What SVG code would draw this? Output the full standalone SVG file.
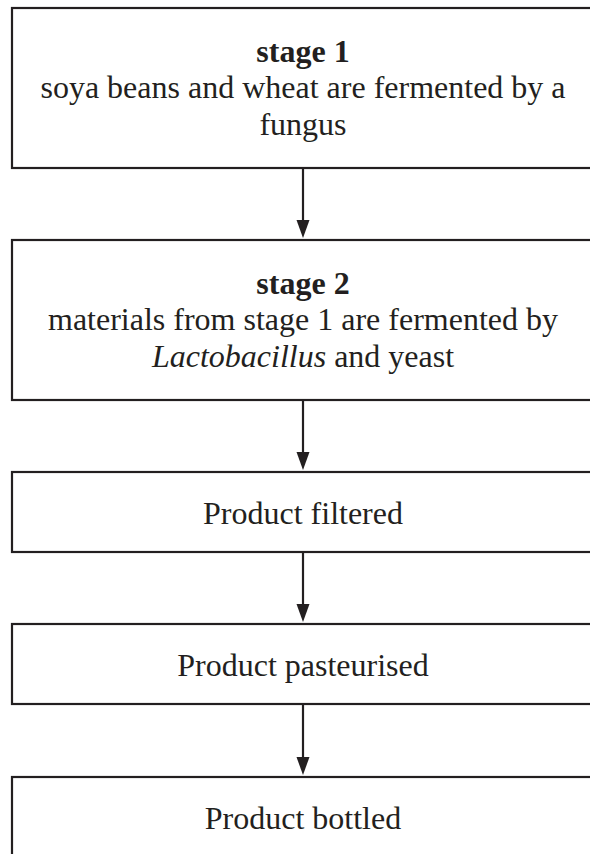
<svg xmlns="http://www.w3.org/2000/svg" width="590" height="854" viewBox="0 0 590 854">
<defs>
<style>
.box{fill:#fff;stroke:#231f20;stroke-width:2.2}
.t{font-family:"Liberation Serif","Times New Roman",serif;font-size:32px;fill:#231f20;text-anchor:middle}
.b{font-weight:bold}
.c{stroke:#231f20;stroke-width:2.2;fill:none}
</style>
<marker id="ah" markerUnits="userSpaceOnUse" markerWidth="14" markerHeight="19" refX="13" refY="6.5" orient="auto" viewBox="0 0 19 13">
<path d="M0,0 L19,6.5 L0,13 Z" fill="#231f20"/>
</marker>
</defs>
<rect width="590" height="854" fill="#fff"/>
<g id="stage1">
<rect class="box" x="12" y="8" width="582" height="160"/>
<text class="t b" x="303" y="62">stage 1</text>
<text class="t" x="303" y="98">soya beans and wheat are fermented by a</text>
<text class="t" x="303" y="135">fungus</text>
</g>
<g id="stage2">
<rect class="box" x="12" y="240" width="582" height="160"/>
<text class="t b" x="303" y="294">stage 2</text>
<text class="t" x="303" y="330">materials from stage 1 are fermented by</text>
<text class="t" x="303" y="367"><tspan font-style="italic">Lactobacillus</tspan> and yeast</text>
</g>
<g id="filtered">
<rect class="box" x="12" y="472" width="582" height="80"/>
<text class="t" x="303" y="524">Product filtered</text>
</g>
<g id="pasteurised">
<rect class="box" x="12" y="624" width="582" height="80"/>
<text class="t" x="303" y="676">Product pasteurised</text>
</g>
<g id="bottled">
<rect class="box" x="12" y="777" width="582" height="82"/>
<text class="t" x="303" y="829">Product bottled</text>
</g>
<g id="connectors">
<line class="c" x1="303" y1="169" x2="303" y2="220"/>
<path d="M296.5,220 L309.5,220 L303,238 Z" fill="#231f20"/>
<line class="c" x1="303" y1="401" x2="303" y2="452"/>
<path d="M296.5,452 L309.5,452 L303,470 Z" fill="#231f20"/>
<line class="c" x1="303" y1="553" x2="303" y2="604"/>
<path d="M296.5,604 L309.5,604 L303,622 Z" fill="#231f20"/>
<line class="c" x1="303" y1="705" x2="303" y2="757"/>
<path d="M296.5,757 L309.5,757 L303,775 Z" fill="#231f20"/>
</g>
</svg>
